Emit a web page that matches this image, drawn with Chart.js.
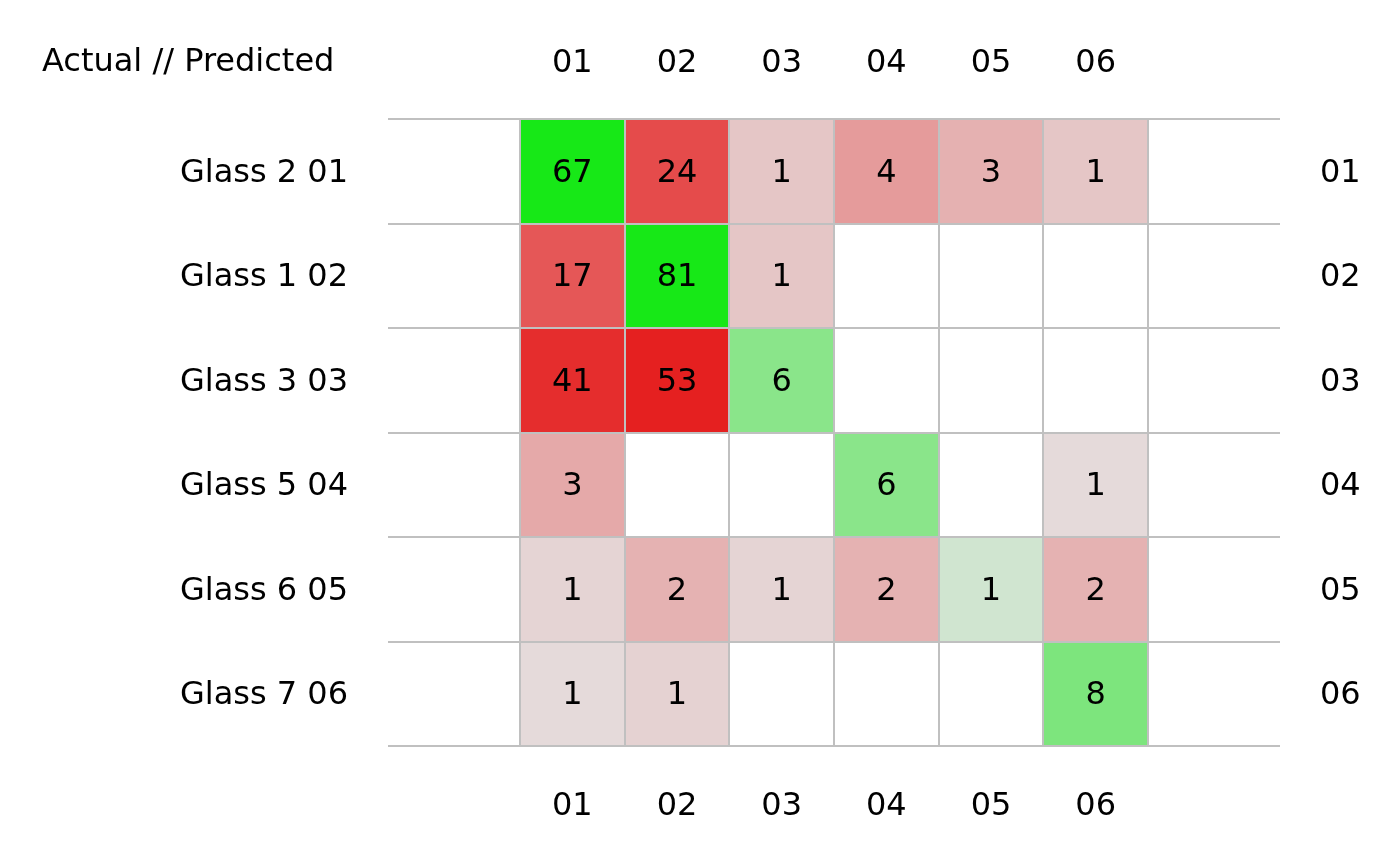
<!DOCTYPE html>
<html>
<head>
<meta charset="utf-8">
<script src="https://cdn.jsdelivr.net/npm/chart.js@4.4.1/dist/chart.umd.min.js"></script>
<style>
  html, body { margin: 0; padding: 0; background: #ffffff; }
  #wrap { width: 1400px; height: 866px; position: relative; }
</style>
</head>
<body>
<div id="wrap"><canvas id="c" width="1400" height="866"></canvas></div>
<script>
// ---- data ----
const predictedLabels = ['01', '02', '03', '04', '05', '06'];
const actualLabels = ['Glass 2 01', 'Glass 1 02', 'Glass 3 03', 'Glass 5 04', 'Glass 6 05', 'Glass 7 06'];
const actualCodes = ['01', '02', '03', '04', '05', '06'];
const cornerTitle = 'Actual // Predicted';
// counts[row = actual][col = predicted]
const row01 = [67, 24, 1, 4, 3, 1];
const row02 = [17, 81, 1, 0, 0, 0];
const row03 = [41, 53, 6, 0, 0, 0];
const row04 = [3, 0, 0, 6, 0, 1];
const row05 = [1, 2, 1, 2, 1, 2];
const row06 = [1, 1, 0, 0, 0, 8];
const counts = [row01, row02, row03, row04, row05, row06];

// ---- styles (cell fill colours, same layout as counts) ----
const cellColors = [
  ['#17E817', '#E54B4B', '#E5C6C6', '#E59B9B', '#E5B1B1', '#E5C6C6'],
  ['#E55757', '#17E817', '#E5C6C6', null, null, null],
  ['#E52D2D', '#E52020', '#8AE58A', null, null, null],
  ['#E5A9A9', null, null, '#8AE58A', null, '#E5DADA'],
  ['#E5D4D4', '#E5B2B2', '#E5D4D4', '#E5B2B2', '#D0E5D0', '#E5B2B2'],
  ['#E5DADA', '#E5D2D2', null, null, null, '#7DE57D']
];

const FONT = { family: 'DejaVu Sans', size: 32 };
const GRID = '#C0C0C0';
const PAD = 1.261; // side margin of the plot in cell widths

const datasets = counts.map((row, r) => {
  const pts = [];
  const cols = [];
  row.forEach((v, c) => {
    if (v > 0) {
      pts.push({ x: c + 1, y: [r + 0.5, r + 1.5], v: v });
      cols.push(cellColors[r][c]);
    }
  });
  return {
    label: actualLabels[r],
    data: pts,
    backgroundColor: cols,
    borderWidth: 0,
    barPercentage: 1,
    categoryPercentage: 1,
    grouped: false
  };
});

const valueLabels = {
  id: 'valueLabels',
  afterDraw(chart) {
    const ctx = chart.ctx;
    ctx.save();
    ctx.font = FONT.size + 'px "' + FONT.family + '"';
    ctx.fillStyle = '#000';
    ctx.textAlign = 'center';
    ctx.textBaseline = 'middle';
    chart.data.datasets.forEach((ds, i) => {
      const meta = chart.getDatasetMeta(i);
      meta.data.forEach((el, j) => {
        const cy = (el.y + el.base) / 2;
        ctx.fillText(String(ds.data[j].v), el.x, cy + 2);
      });
    });
    // corner title, aligned with the top tick labels
    const top = chart.scales.xTop;
    const yl = chart.scales.y;
    ctx.textAlign = 'left';
    ctx.fillText(cornerTitle, yl.left + 42, (top.top + top.bottom) / 2 + 3);
    ctx.restore();
  }
};

const fixedTicks = (scale) => {
  scale.ticks = predictedLabels.map((_, i) => ({ value: i + 1 }));
};

new Chart(document.getElementById('c'), {
  type: 'bar',
  data: { datasets },
  options: {
    responsive: false,
    animation: false,
    devicePixelRatio: 1,
    layout: { padding: 0 },
    plugins: { legend: { display: false }, tooltip: { enabled: false }, title: { display: false } },
    scales: {
      x: {
        type: 'linear', position: 'bottom', min: 0.5 - PAD, max: 6.5 + PAD, offset: false,
        afterBuildTicks: fixedTicks,
        afterFit: (s) => { s.height = 120; },
        ticks: { autoSkip: false, maxRotation: 0, padding: 41, color: '#000', font: FONT,
                 callback: (v) => predictedLabels[v - 1] },
        grid: { display: true, offset: true, color: GRID, lineWidth: 2, drawTicks: false, z: 1 },
        border: { display: false }
      },
      xTop: {
        type: 'linear', position: 'top', min: 0.5 - PAD, max: 6.5 + PAD, offset: false,
        afterBuildTicks: fixedTicks,
        afterFit: (s) => { s.height = 119; },
        ticks: { autoSkip: false, maxRotation: 0, padding: 36, color: '#000', font: FONT,
                 callback: (v) => predictedLabels[v - 1] },
        grid: { display: false, drawTicks: false },
        border: { display: false }
      },
      y: {
        type: 'linear', position: 'left', min: 0.5, max: 6.5, reverse: true, offset: false,
        afterBuildTicks: fixedTicks,
        afterFit: (s) => { s.width = 388; },
        ticks: { autoSkip: false, padding: 40, labelOffset: 2, color: '#000', font: FONT,
                 callback: (v) => actualLabels[v - 1] },
        grid: { display: true, offset: true, color: GRID, lineWidth: 2, drawTicks: false, z: 1 },
        border: { display: false }
      },
      yRight: {
        type: 'linear', position: 'right', min: 0.5, max: 6.5, reverse: true, offset: false,
        afterBuildTicks: fixedTicks,
        afterFit: (s) => { s.width = 120; },
        ticks: { autoSkip: false, padding: 40, labelOffset: 2, color: '#000', font: FONT,
                 callback: (v) => actualCodes[v - 1] },
        grid: { display: false, drawTicks: false },
        border: { display: false }
      }
    }
  },
  plugins: [valueLabels]
});
</script>
</body>
</html>
